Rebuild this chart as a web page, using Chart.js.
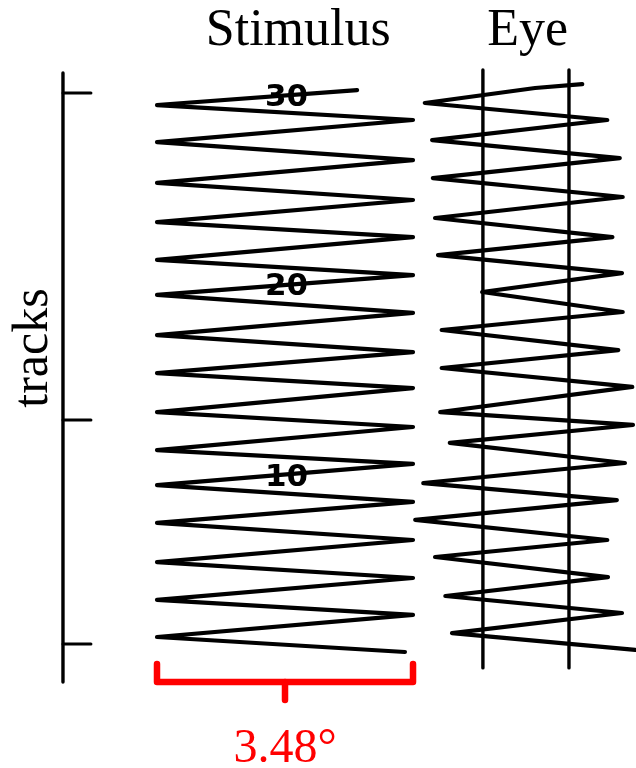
<!DOCTYPE html>
<html>
<head>
<meta charset="utf-8">
<script src="https://cdn.jsdelivr.net/npm/chart.js@4"></script>
<style>
  html, body { margin: 0; padding: 0; background: #fff; }
  #plot { display: block; }
</style>
</head>
<body>
<canvas id="plot" width="636" height="768"></canvas>
<script>
// Stimulus sweep, bottom to top: horizontal position (deg) and track number of each turning point
const stimAmp = 3.48;
const stimDeg = [3.37, 0, 3.48, 0, 3.48, 0, 3.48, 0, 3.48, 0, 3.48, 0, 3.48, 0, 3.48, 0,
                 3.48, 0, 3.48, 0, 3.48, 0, 3.48, 0, 3.48, 0, 3.48, 0, 3.48, 0, 2.72];
const stimTrack = [0, 0.80, 1.98, 2.78, 3.95, 4.80, 5.98, 6.89, 8.01, 8.91, 10.04, 10.78, 12.01, 12.81,
                   14.09, 14.89, 16.01, 16.92, 18.10, 19.06, 20.12, 20.93, 22.15, 22.95, 24.13, 25.04,
                   26.26, 27.22, 28.40, 29.20, 30.00];

// Eye record, same tracks
const eyeDeg = [6.50, 4.01, 6.32, 3.92, 6.13, 3.78, 6.12, 3.51, 6.25, 3.62, 6.36, 3.98, 6.47, 3.85,
                6.46, 3.87, 6.27, 3.87, 6.33, 4.42, 6.32, 3.82, 6.19, 3.78, 6.33, 3.75, 6.29, 3.74,
                6.12, 3.64, 5.14, 5.78];
const eyeTrack = [0.11, 1.01, 2.08, 2.99, 4.00, 5.07, 5.98, 7.05, 8.11, 9.02, 10.09, 11.16, 12.12, 12.81,
                  14.15, 15.16, 16.12, 17.19, 18.15, 19.22, 20.23, 21.19, 22.15, 23.17, 24.29, 25.30,
                  26.37, 27.33, 28.40, 29.31, 30.11, 30.32];

// vertical reference lines on the eye record
const eyeRefDeg = [4.43, 5.60];
const eyeRefSpan = [-0.85, 31.07];

// track axis
const axisDeg = -1.278;
const axisSpan = [-1.60, 30.91];
const trackTicks = [0.43, 12.38, 29.84];

// track numbers printed on the stimulus record
const trackNums = ['10', '20', '30'];
const trackNumAt = [9.29, 19.48, 29.57];

const INK = '#000';
const RED = '#ff0000';

const pts = (xs, ys) => xs.map((x, i) => ({ x, y: ys[i] }));
const seg = (x0, y0, x1, y1) => [{ x: x0, y: y0 }, { x: x1, y: y1 }];

const lineStyle = (data, color, w) => ({
  data, borderColor: color, borderWidth: w, pointRadius: 0, showLine: true, fill: false,
  tension: 0, borderJoinStyle: 'round', borderCapStyle: 'round'
});

const datasets = [
  lineStyle(pts(stimDeg, stimTrack), INK, 4.2),
  lineStyle(pts(eyeDeg, eyeTrack), INK, 4.2),
  ...eyeRefDeg.map(d => lineStyle(seg(d, eyeRefSpan[0], d, eyeRefSpan[1]), INK, 3.4)),
  lineStyle(seg(axisDeg, axisSpan[0], axisDeg, axisSpan[1]), INK, 3.4),
  ...trackTicks.map(t => lineStyle(seg(axisDeg, t, axisDeg + 0.38, t), INK, 3)),
  // bracket under the stimulus spanning its full amplitude
  lineStyle([{ x: 0, y: -0.64 }, { x: 0, y: -1.60 }, { x: stimAmp, y: -1.60 }, { x: stimAmp, y: -0.64 }], RED, 6.5),
  lineStyle(seg(stimAmp / 2, -1.60, stimAmp / 2, -2.56), RED, 6.5)
];

// titles, track numbers and the amplitude label
const labels = {
  id: 'labels',
  afterDatasetsDraw(chart) {
    const { ctx, scales: { x, y } } = chart;
    ctx.save();
    ctx.textAlign = 'center';
    ctx.textBaseline = 'alphabetic';

    ctx.fillStyle = '#000';
    ctx.font = '52px "Liberation Serif", "Times New Roman", serif';
    ctx.fillText('Stimulus', x.getPixelForValue(1.92), y.getPixelForValue(32.40));
    ctx.fillText('Eye', x.getPixelForValue(5.04), y.getPixelForValue(32.40));

    ctx.save();
    ctx.translate(x.getPixelForValue(-1.67), y.getPixelForValue(16.23));
    ctx.rotate(-Math.PI / 2);
    ctx.textBaseline = 'middle';
    ctx.font = '50px "Liberation Serif", "Times New Roman", serif';
    ctx.fillText('tracks', 0, 0);
    ctx.restore();

    ctx.fillStyle = INK;
    ctx.textBaseline = 'middle';
    ctx.font = 'bold 31px "DejaVu Sans", sans-serif';
    trackNums.forEach((n, i) => {
      ctx.fillText(n, x.getPixelForValue(1.76), y.getPixelForValue(trackNumAt[i]));
    });

    ctx.fillStyle = RED;
    ctx.textBaseline = 'alphabetic';
    ctx.font = '48px "Liberation Serif", "Times New Roman", serif';
    ctx.fillText(stimAmp.toFixed(2) + '°', x.getPixelForValue(stimAmp / 2), y.getPixelForValue(-5.87));
    ctx.restore();
  }
};

new Chart(document.getElementById('plot'), {
  type: 'scatter',
  data: { datasets },
  options: {
    responsive: false,
    animation: false,
    layout: { padding: 0 },
    plugins: { legend: { display: false }, tooltip: { enabled: false } },
    scales: {
      x: { type: 'linear', min: -2.134, max: 6.511, display: false },
      y: { type: 'linear', min: -6.193, max: 34.807, display: false }
    }
  },
  plugins: [labels]
});
</script>
</body>
</html>
